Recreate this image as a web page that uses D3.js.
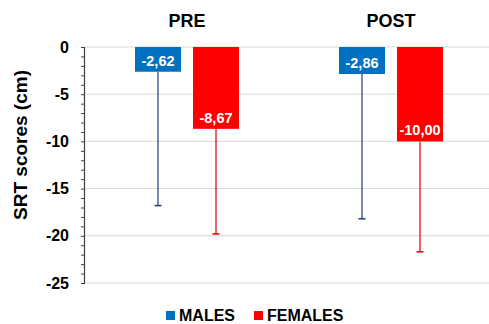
<!DOCTYPE html>
<html>
<head>
<meta charset="utf-8">
<script src="https://cdn.jsdelivr.net/npm/d3@7"></script>
<style>
  html, body { margin: 0; padding: 0; background: #fff; }
  svg { display: block; font-family: Arial, "Liberation Sans", sans-serif; }
</style>
</head>
<body>
<svg id="chart" width="489" height="324"></svg>
<script>
// Sit-and-reach test scores, mean (bar) and lower SD (error bar)
const phases = ["PRE", "POST"];
const groups = ["MALES", "FEMALES"];
const malesMean = [-2.62, -2.86];
const femalesMean = [-8.67, -10.00];
const malesLow = [-16.8, -18.2];
const femalesLow = [-19.8, -21.7];
const majorTicks = [0, -5, -10, -15, -20, -25];

const colors = { MALES: "#0070C0", FEMALES: "#FF0000" };
const errColors = { MALES: "#1F3A78", FEMALES: "#D40000" };

const rows = [];
phases.forEach((p, i) => {
  rows.push({ phase: p, group: "MALES", mean: malesMean[i], low: malesLow[i] });
  rows.push({ phase: p, group: "FEMALES", mean: femalesMean[i], low: femalesLow[i] });
});

const svg = d3.select("#chart");
const plotLeft = 85, plotRight = 493, plotTop = 47, plotBottom = 283;

const y = d3.scaleLinear().domain([0, -25]).range([plotTop, plotBottom]);
const x0 = d3.scaleBand().domain(phases).range([plotLeft, plotRight]);
const x1 = d3.scaleBand().domain(groups).range([0, x0.bandwidth()])
  .paddingInner(12 / 58).paddingOuter(50 / 58);

// gridlines
svg.append("g").selectAll("line").data(majorTicks).join("line")
  .attr("x1", plotLeft).attr("x2", 489)
  .attr("y1", d => y(d)).attr("y2", d => y(d))
  .attr("stroke", "#d9d9d9").attr("stroke-width", 1);

// bars
const bar = svg.append("g").selectAll("g").data(rows).join("g")
  .attr("transform", d => `translate(${x0(d.phase) + x1(d.group)},0)`);

bar.append("rect")
  .attr("x", 0).attr("width", x1.bandwidth())
  .attr("y", y(0)).attr("height", d => y(d.mean) - y(0))
  .attr("fill", d => colors[d.group]);

// error bars (downward only)
const cx = x1.bandwidth() / 2;
bar.append("line")
  .attr("x1", cx).attr("x2", cx)
  .attr("y1", d => y(d.mean)).attr("y2", d => y(d.low))
  .attr("stroke", d => errColors[d.group]).attr("stroke-width", 1.2);
bar.append("line")
  .attr("x1", cx - 3.5).attr("x2", cx + 3.5)
  .attr("y1", d => y(d.low)).attr("y2", d => y(d.low))
  .attr("stroke", d => errColors[d.group]).attr("stroke-width", 1.5);

// value labels at bar ends
const fmt = v => v.toFixed(2).replace(".", ",");
bar.append("text")
  .attr("x", cx).attr("y", d => y(d.mean) - 11)
  .attr("dy", "0.35em")
  .attr("text-anchor", "middle")
  .attr("fill", "#fff").attr("font-weight", "bold").attr("font-size", 14.5)
  .text(d => fmt(d.mean));

// y axis: minor ticks every unit
const axisMinor = d3.axisLeft(y).tickValues(d3.range(0, -26, -1))
  .tickSize(4).tickFormat("");
const gMinor = svg.append("g").attr("transform", `translate(${plotLeft},0)`).call(axisMinor);
gMinor.selectAll("line, path").attr("stroke", "#404040");
gMinor.select(".domain").attr("d", `M-0.5,${plotTop}V${plotBottom}`).attr("stroke-width", 1.2);

const axisMajor = d3.axisLeft(y).tickValues(majorTicks).tickSize(0).tickPadding(16)
  .tickFormat(d => String(d));
const gMajor = svg.append("g").attr("transform", `translate(${plotLeft},0)`).call(axisMajor);
gMajor.select(".domain").remove();
gMajor.selectAll("text")
  .attr("font-family", "Arial, 'Liberation Sans', sans-serif")
  .attr("font-weight", "bold").attr("font-size", 16).attr("fill", "#000");

// axis title
svg.append("text")
  .attr("transform", "translate(27,145) rotate(-90)")
  .attr("text-anchor", "middle")
  .attr("font-weight", "bold").attr("font-size", 19)
  .text("SRT scores (cm)");

// phase titles
svg.append("g").selectAll("text").data(phases).join("text")
  .attr("x", d => x0(d) + x1("MALES") + (x1("FEMALES") + x1.bandwidth() - x1("MALES")) / 2)
  .attr("y", 27)
  .attr("text-anchor", "middle")
  .attr("font-weight", "bold").attr("font-size", 18)
  .text(d => d);

// legend
const legendX = { MALES: 166, FEMALES: 254 };
const lg = svg.append("g").selectAll("g").data(groups).join("g")
  .attr("transform", d => `translate(${legendX[d]},0)`);
lg.append("rect").attr("x", 0).attr("y", 311).attr("width", 9).attr("height", 9)
  .attr("fill", d => colors[d]);
lg.append("text").attr("x", 13).attr("y", 320.5)
  .attr("font-weight", "bold").attr("font-size", 16)
  .text(d => d);
</script>
</body>
</html>
